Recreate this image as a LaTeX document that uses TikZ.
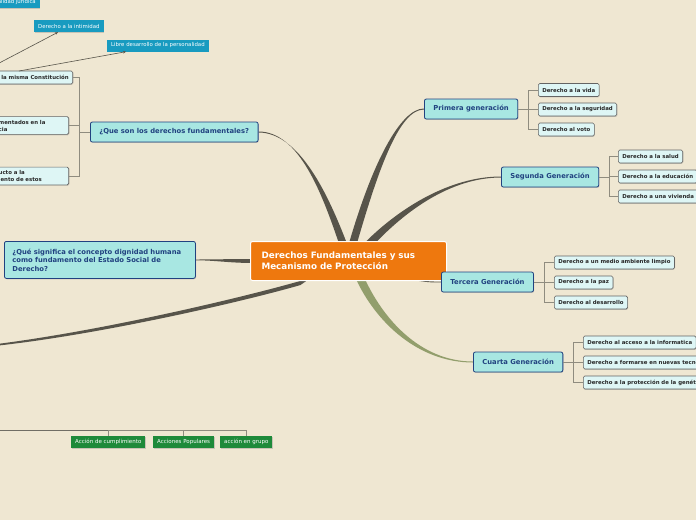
\documentclass[tikz,border=0pt]{standalone}
\usepackage{fontspec}
\setmainfont{DejaVu Sans}
\usetikzlibrary{arrows.meta,positioning,calc,shadows,backgrounds}
\definecolor{dmBeige}{RGB}{239,231,210}
\definecolor{dmOrange}{RGB}{238,120,14}
\definecolor{dmCyan}{RGB}{168,231,226}
\definecolor{dmNavy}{RGB}{33,66,128}
\definecolor{dmPale}{RGB}{222,246,245}
\definecolor{dmGrey}{RGB}{100,100,100}
\definecolor{dmInk}{RGB}{40,40,40}
\definecolor{dmTeal}{RGB}{24,155,192}
\definecolor{dmGreen}{RGB}{30,138,58}
\definecolor{dmConn}{RGB}{87,84,74}
\definecolor{dmOlive}{RGB}{146,158,108}
\definecolor{dmLine}{RGB}{143,140,127}
\tikzset{
  softshadow/.style={drop shadow={shadow xshift=0.6pt,shadow yshift=-0.9pt,opacity=0.35}},
  rootbox/.style={fill=dmOrange,draw=white,line width=1pt,rounded corners=2pt,
    text=white,font=\fontsize{8.8}{11}\selectfont\bfseries,text width=174pt,
    inner xsep=11pt,minimum height=39pt,align=left},
  topic/.style={fill=dmCyan,draw=dmNavy,line width=0.8pt,rounded corners=2pt,
    text=dmNavy,font=\fontsize{6.8}{8.5}\selectfont\bfseries,inner xsep=9pt,
    minimum height=20pt,softshadow},
  leaf/.style={fill=dmPale,draw=dmGrey,line width=0.6pt,rounded corners=1.5pt,
    text=dmInk,font=\fontsize{5.4}{7}\selectfont\bfseries,inner xsep=4pt,
    minimum height=13pt,softshadow},
  bluebox/.style={fill=dmTeal,text=white,font=\fontsize{5.4}{6.5}\selectfont,
    inner xsep=4pt,minimum height=12pt,softshadow},
  greenbox/.style={fill=dmGreen,text=white,font=\fontsize{5.5}{6.5}\selectfont,
    inner xsep=4pt,minimum height=12pt,softshadow},
  bracket/.style={draw=dmLine,line width=0.7pt},
  arrowline/.style={draw=dmConn,line width=0.6pt,-{Stealth[length=3pt,width=2.6pt]}},
}
\begin{document}
\begin{tikzpicture}[x=1pt,y=-1pt]
\useasboundingbox (0,0) rectangle (696,520);
% central topic
\node[rootbox,anchor=north west] (root) at (250,241)
  {Derechos Fundamentales y sus\\Mecanismo de Protección};
% main topics
\node[topic,anchor=west] (que) at (90,132) {¿Que son los derechos fundamentales?};
\node[topic,anchor=north west,text width=175pt,align=left,minimum height=37pt,inner xsep=8pt] (dig) at (4,241)
  {¿Qué significa el concepto dignidad humana\\como fundamento del Estado Social de\\Derecho?};
\node[topic,anchor=west] (prim) at (424,109) {Primera generación};
\node[topic,anchor=west] (seg) at (501,177) {Segunda Generación};
\node[topic,anchor=west] (ter) at (441,282) {Tercera Generación};
\node[topic,anchor=west] (cua) at (473,362) {Cuarta Generación};
% rights of each generation
\foreach \nm/\x/\y/\txt in {
   vida/538/90/Derecho a la vida,
   segur/538/109.5/Derecho a la seguridad,
   voto/538/129.5/Derecho al voto,
   salud/618/156.5/Derecho a la salud,
   educ/618/176.5/Derecho a la educación,
   viv/618/196.5/Derecho a una vivienda,
   medio/554/262.5/Derecho a un medio ambiente limpio,
   paz/554/282.5/Derecho a la paz,
   desa/554/302.5/Derecho al desarrollo,
   info/583/342.5/Derecho al acceso a la informatica,
   tecn/583/362.5/Derecho a formarse en nuevas tecnologías,
   gene/583/382.5/Derecho a la protección de la genética
}{
  \node[leaf,anchor=west] (\nm) at (\x,\y) {\txt};
}
\foreach \p/\kids in {prim/{vida,segur,voto},seg/{salud,educ,viv},
                      ter/{medio,paz,desa},cua/{info,tecn,gene}}{
  \foreach \k in \kids
    \draw[bracket] (\p.east) -- ++(10,0) |- (\k.west);
}
% left side, cut by the page edge
\node[leaf,anchor=east] (cons) at (73,77.5) {la misma Constitución};
\node[leaf,anchor=east,text width=66pt,align=left] (fund) at (69,125.5) {mentados en la\\cia};
\node[leaf,anchor=east,text width=66pt,align=left] (resp) at (69,176) {ucto a la\\iento de estos};
\foreach \k in {cons,fund,resp}
  \draw[bracket] (que.west) -- ++(-11,0) |- (\k.east);
\node[bluebox,anchor=east] (jur) at (40,2) {alidad jurídica};
\node[bluebox,anchor=west] (intim) at (34,26) {Derecho a la intimidad};
\node[bluebox,anchor=west] (libre) at (107,45.5) {Libre desarrollo de la personalidad};
\coordinate (c1) at (-16,71);
\coordinate (c2) at (19,71);
\draw[arrowline] (c1) -- ($(intim.south west)+(24,0)$);
\draw[arrowline] (c2) -- ($(libre.south west)+(19,0)$);
% protection actions
\node[greenbox,anchor=west] (cump) at (71,442) {Acción de cumplimiento};
\node[greenbox,anchor=west] (pop) at (153,442) {Acciones Populares};
\node[greenbox,anchor=west] (grupo) at (220,442) {acción en grupo};
\coordinate (accL) at (-10,430);
\draw[bracket,draw=dmConn!85] (accL) -- (cump.north |- accL);
\draw[bracket] (cump.north |- accL) -| (grupo.north);
\foreach \k in {cump,pop}
  \draw[bracket] (\k.north |- accL) -- (\k.north);
% tapered branches
\coordinate (offL) at (-20,346);
\begin{scope}[on background layer]
\fill[dmBeige] (0,0) rectangle (696,520);
\fill[dmConn] ($(root.north)+(-9,4)$) .. controls +(-17,-50) and +(41,0) .. ($(que.east)+(0,-0.5)$)
   -- ($(que.east)+(0,0.5)$) .. controls +(41,0) and +(-19,-50) .. ($(root.north)+(-1,4)$) -- cycle;
\fill[dmConn] ($(root.north)+(0,4)$) .. controls +(23,-80) and +(-24,0) .. ($(prim.west)+(0,-0.5)$)
   -- ($(prim.west)+(0,0.5)$) .. controls +(-24,0) and +(23,-80) .. ($(root.north)+(8,4)$) -- cycle;
\fill[dmConn] ($(root.north)+(14,4)$) .. controls +(36,-37) and +(-51,0) .. ($(seg.west)+(0,-0.5)$)
   -- ($(seg.west)+(0,0.5)$) .. controls +(-51,0) and +(31,-33) .. ($(root.north)+(25,4)$) -- cycle;
\fill[dmConn] ($(root.west)+(4,-2)$) .. controls +(-25,0) and +(20,0) .. ($(dig.east)+(0,-0.4)$)
   -- ($(dig.east)+(0,0.4)$) .. controls +(20,0) and +(-25,0) .. ($(root.west)+(4,2)$) -- cycle;
\fill[dmConn] ($(root.south)+(-38,-3)$) .. controls +(-60,18) and +(110,-12) .. (offL)
   -- ++(0,1.4) .. controls +(110,-10) and +(-55,16) .. ($(root.south)+(-48,4)$) -- cycle;
\draw[dmConn,line width=0.9pt] ($(root.south east)+(-36,-2)$) .. controls +(15,3) and +(-10,0) .. (ter.west);
\fill[dmOlive] ($(root.south)+(16,-3)$) .. controls +(18,40) and +(-53,0) .. ($(cua.west)+(0,-0.5)$)
   -- ($(cua.west)+(0,0.5)$) .. controls +(-55,0) and +(20,44) .. ($(root.south)+(7,-3)$) -- cycle;
\end{scope}
\end{tikzpicture}
\end{document}
